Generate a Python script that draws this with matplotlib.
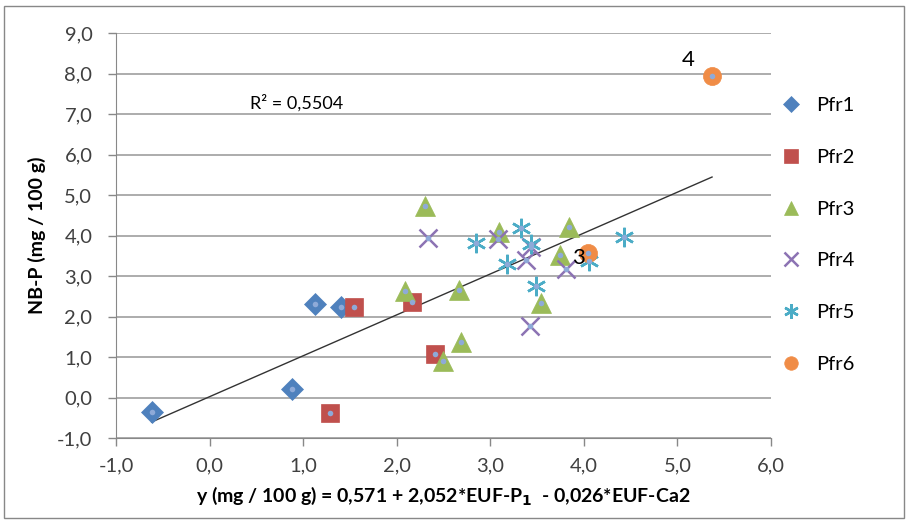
import numpy as np
import matplotlib
matplotlib.use("Agg")
from matplotlib import pyplot as plt

plt.rcParams['font.family'] = ['Lato', 'DejaVu Sans']

# data
pfr1_x = [-0.62, 0.88, 1.13, 1.40]
pfr1_y = [-0.36, 0.21, 2.31, 2.23]
pfr2_x = [1.29, 1.54, 2.16, 2.41]
pfr2_y = [-0.38, 2.24, 2.37, 1.07]
pfr3_x = [2.09, 2.30, 2.49, 2.67, 2.69, 3.09, 3.54, 3.74, 3.84]
pfr3_y = [2.64, 4.73, 0.90, 2.65, 1.36, 4.09, 2.33, 3.52, 4.20]
pfr4_x = [2.33, 3.08, 3.38, 3.42, 3.44, 3.81]
pfr4_y = [3.94, 3.91, 3.40, 1.77, 3.72, 3.17]
pfr5_x = [2.85, 3.18, 3.33, 3.43, 3.49, 4.05, 4.43]
pfr5_y = [3.81, 3.30, 4.19, 3.78, 2.75, 3.37, 3.96]
pfr6_x = [4.04, 5.37]
pfr6_y = [3.57, 7.95]
pfr6_labels = ["3", "4"]

trend_slope = 1.01
trend_intercept = 0.02
r2_text = "R² = 0,5504"

series = [
    ("Pfr1", pfr1_x, pfr1_y, "D", "#4f81bd", 11),
    ("Pfr2", pfr2_x, pfr2_y, "s", "#c0504d", 13),
    ("Pfr3", pfr3_x, pfr3_y, "^", "#9bbb59", 14),
    ("Pfr4", pfr4_x, pfr4_y, "x", "#8c73b3", 13),
    ("Pfr5", pfr5_x, pfr5_y, (6, 2, 0), "#4bacc6", 14),
    ("Pfr6", pfr6_x, pfr6_y, "o", "#f08c46", 13),
]

fig = plt.figure(figsize=(9.09, 5.22), dpi=100)
ax = fig.add_axes([116 / 909, 1 - 438 / 522, (771 - 116) / 909, (438 - 33) / 522])

for name, xs, ys, mk, col, ms in series:
    lw = 1.8 if mk in ("x", (6, 2, 0)) else 0.5
    ax.plot(xs, ys, linestyle="none", marker=mk, color=col, markersize=ms,
            markeredgewidth=lw, markeredgecolor=col, label=name, zorder=3)

# small dots in the middle of every point
all_x = pfr1_x + pfr2_x + pfr3_x + pfr4_x + pfr5_x + pfr6_x
all_y = pfr1_y + pfr2_y + pfr3_y + pfr4_y + pfr5_y + pfr6_y
ax.plot(all_x, all_y, linestyle="none", marker="o", markersize=4,
        color="#8eaad8", markeredgewidth=0, zorder=4)

# trend line
tx = np.array([min(all_x), max(all_x)])
ax.plot(tx, trend_slope * tx + trend_intercept, color="#333333", lw=1, zorder=2)

# point labels
ax.text(pfr6_x[0] - 0.03, pfr6_y[0] - 0.12, pfr6_labels[0], ha="right", va="center",
        fontsize=16, zorder=5)
ax.text(pfr6_x[1] - 0.19, pfr6_y[1] + 0.38, pfr6_labels[1], ha="right", va="center",
        fontsize=16, zorder=5)

ax.text(0.43, 7.27, r2_text, fontsize=13, va="center", ha="left")

ax.set_xlim(-1, 6)
ax.set_ylim(-1, 9)
ax.set_xticks(np.arange(-1, 7, 1))
ax.set_yticks(np.arange(-1, 10, 1))
ax.set_xticklabels([f"{v:.1f}".replace(".", ",") for v in np.arange(-1, 7, 1)], fontsize=14.5)
ax.set_yticklabels([f"{v:.1f}".replace(".", ",") for v in np.arange(-1, 10, 1)], fontsize=14.5)
ax.tick_params(direction="out", length=6, color="#888888", width=1, labelcolor="#404040")
ax.tick_params(axis="y", pad=11)
ax.tick_params(axis="x", pad=8)
ax.yaxis.grid(True, color="#a6a6a6", lw=1.3)
ax.set_axisbelow(True)
for s in ["top", "right"]:
    ax.spines[s].set_visible(False)
for s in ["left", "bottom"]:
    ax.spines[s].set_color("#888888")

ax.set_ylabel("NB-P (mg / 100 g)", fontsize=14, fontweight="bold", labelpad=8)
ax.set_xlabel("y (mg / 100 g) = 0,571 + 2,052*EUF-P$_\\mathbf{1}$  - 0,026*EUF-Ca2",
              fontsize=14, fontweight="bold", labelpad=7)

leg = fig.legend(loc="upper left", bbox_to_anchor=(763 / 909, 1 - 79 / 522), frameon=False,
                 fontsize=14.5, labelspacing=1.72, handlelength=1.0, handletextpad=0.75,
                 markerscale=0.75)

fig.patches.append(plt.Rectangle((4 / 909, 4 / 522), 900 / 909, 512 / 522, transform=fig.transFigure,
                                 fill=False, edgecolor="#888888", lw=1))

fig.savefig("out.png", dpi=100)
